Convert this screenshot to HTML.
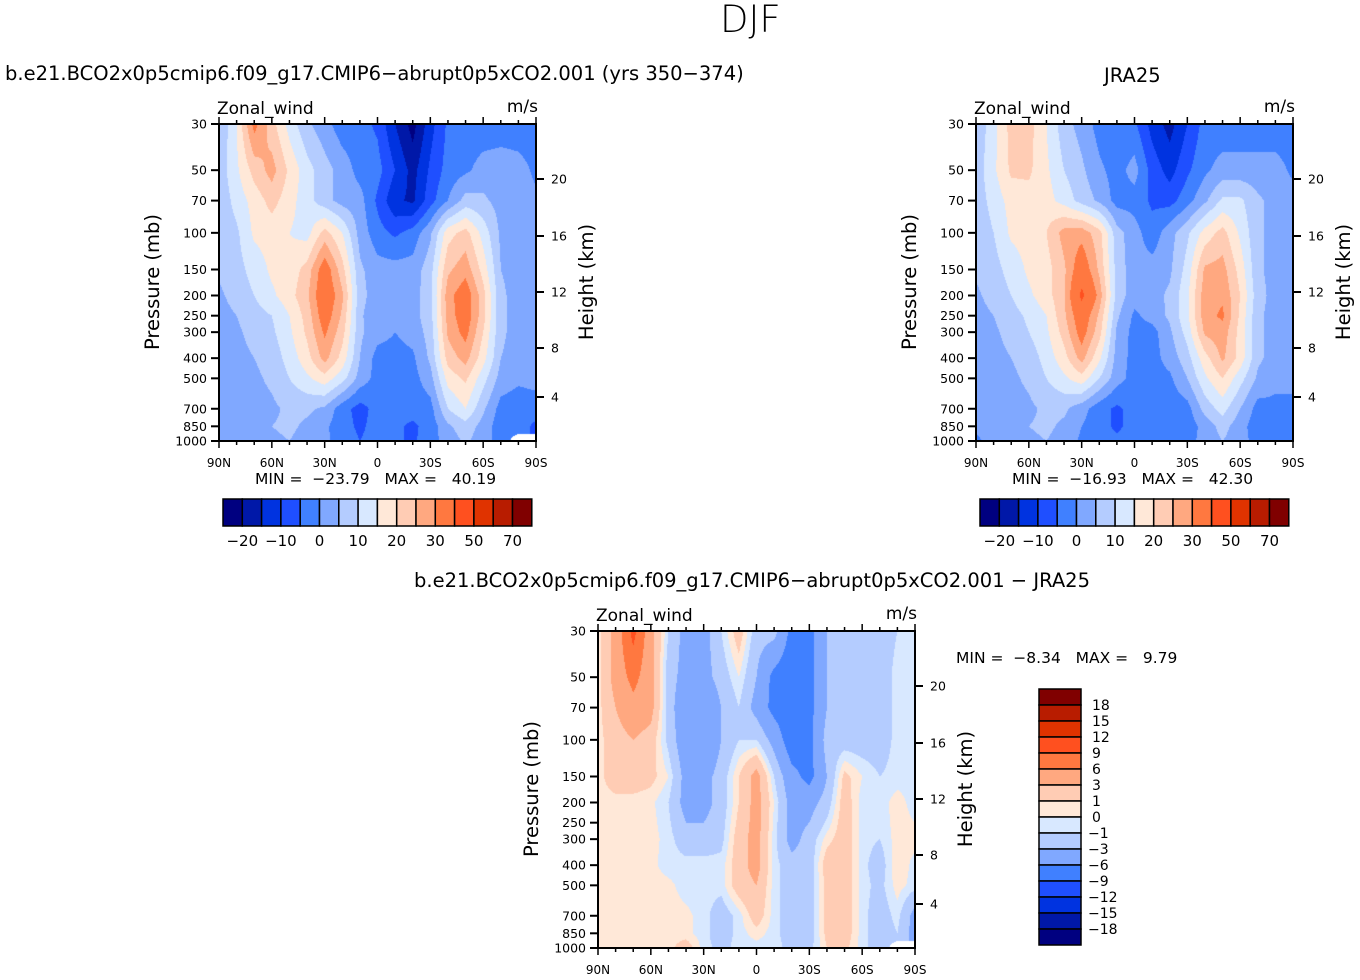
<!DOCTYPE html>
<html><head><meta charset="utf-8">
<style>
body{margin:0;background:#fff;width:1360px;height:980px;overflow:hidden;position:relative;font-family:"DejaVu Sans","Liberation Sans",sans-serif;}
.t{position:absolute;white-space:pre;color:#000;}
canvas{position:absolute;}
svg{position:absolute;left:0;top:0;}
svg text{white-space:pre;}
</style></head><body>
<div class="t" style="left:720px;top:-2px;font-size:37px;font-weight:200;">DJF</div>
<div class="t" style="left:5px;top:62px;font-size:19.5px">b.e21.BCO2x0p5cmip6.f09_g17.CMIP6−abrupt0p5xCO2.001 (yrs 350−374)</div>
<div class="t" style="left:1104px;top:64px;font-size:19.5px">JRA25</div>
<div class="t" style="left:414px;top:569px;font-size:19.5px">b.e21.BCO2x0p5cmip6.f09_g17.CMIP6−abrupt0p5xCO2.001 − JRA25</div>
<canvas id="c1" width="317" height="317" style="left:219px;top:124px"></canvas>
<canvas id="c2" width="317" height="317" style="left:976px;top:124px"></canvas>
<canvas id="c3" width="317" height="317" style="left:598px;top:631px"></canvas>
<svg id="ov" width="1360" height="980"></svg>
<script>
// ---------- data ----------
const lats=["90N","80N","70N","60N","50N","40N","30N","20N","10N","0","10S","20S","30S","40S","50S","60S","70S","80S","90S"];
const plevs=[30,50,70,100,150,200,250,300,400,500,700,850,1000];
const absLevels=[-20,-15,-10,-5,0,5,10,15,20,25,30,40,50,60,70];
const absLabels=["−20","−10","0","10","20","30","50","70"];
const diffLevels=[-18,-15,-12,-9,-6,-3,-1,0,1,3,6,9,12,15,18];
const diffLabels=["18","15","12","9","6","3","1","0","−1","−3","−6","−9","−12","−15","−18"];
const palette=["#000080","#0018a8","#0033e0","#1f4fff","#4080ff","#80a8ff","#b4ccff","#d8e8ff","#ffe8d8","#ffccb4","#ffa880","#ff7840","#ff501f","#e03300","#b81c00","#800000"];
const modelU=[
[5,15,32,22,13,6,2,-3,-3,-6,-15,-22,-12,-4,-3,-3,-3,-3,-3],
[7,14,22,27,19,12,7,3,-2,-3,-10,-17,-9,-3,-1,2,3,2,-1],
[6,12,17,22,17,12,7,3,2,-6,-14,-16,-7,0,7,6,3,2,1],
[6,9,16,17,15,13,22,15,3,-3,-6,-3,4,18,22,13,4,2,1],
[6,8,12,16,17,22,34,22,6,2,2,2,8,24,28,18,5,3,2],
[4,7,10,14,18,24,36,26,7,2,2,3,8,28,34,22,6,3,2],
[3,5,8,10,15,22,34,24,6,1,2,3,8,27,34,22,6,3,2],
[3,4,7,9,14,21,31,22,6,2,0,2,7,26,32,20,6,3,2],
[2,3,5,7,12,18,27,18,5,-2,-2,-1,6,22,27,17,5,3,1],
[2,3,4,6,10,14,18,12,3,-2,-3,-2,3,17,21,12,3,1,2],
[1,2,3,4,6,6,4,-3,-7,-3,-3,-3,-2,10,15,6,-2,-3,-3],
[1,2,3,5,6,4,1,-3,-6,-3,-4,-6,-3,4,8,3,-3,-3,-6],
[1,2,3,4,5,3,1,-2,-5,-3,-4,-6,-2,2,6,2,-2,null,null]];
const jraU=[
[6,13,22,22,15,7,3,-2,-4,-4,-12,-17,-10,-3,-3,-3,-3,-3,-3],
[7,14,21,21,16,10,6,1,-2,2,-7,-12,-6,-1,2,2,2,2,-1],
[7,12,17,18,17,13,8,4,-2,-2,-6,-7,-2,4,11,11,6,3,2],
[6,10,16,17,20,27,28,22,7,2,-3,3,9,17,22,14,6,3,2],
[6,8,12,16,18,24,35,24,8,2,2,4,12,26,27,18,6,3,2],
[4,7,10,14,18,24,42,28,8,2,3,6,14,28,29,20,7,3,2],
[3,5,8,11,15,24,35,24,6,-1,2,6,14,28,31,19,6,3,2],
[3,4,7,10,14,22,33,22,4,-2,-2,4,12,26,28,18,6,3,2],
[2,3,5,7,12,18,27,16,3,-2,-2,2,8,18,26,18,6,3,2],
[2,3,4,6,10,14,18,10,2,-2,-2,-1,5,14,20,12,4,1,2],
[1,2,3,4,6,6,2,-3,-6,-3,-3,-3,-2,7,12,5,-2,-1,-2],
[1,2,3,5,6,4,0,-3,-6,-3,-3,-3,-3,2,7,2,-3,-2,-2],
[-1,2,3,4,5,3,-1,-3,-4,-3,-3,-3,-2,2,5,2,-2,-2,-2]];
const diffU=[
[0.5,4,10,4,-1,-4,-4,-1,2,-2,-2,-7,-7,-3,-2,-2,-2,-1,-0.5],
[0.5,4,7,4,-2,-4,-4,-2,0,-3,-7,-8,-7,-3,-2,-2,-2,-0.5,-0.5],
[0.5,3,5,4,-2,-5,-6,-3,-1,-4,-7,-8,-7,-3,-2,-2,-2,-0.5,-0.5],
[0.5,2,3,2,-1.5,-5,-6,-3,-1,-1,-4,-8,-7,-2,-2,-2,-2,-0.5,-0.5],
[0.5,2,2,1.5,0,-4,-4,-2,1,4,-1,-5,-7,-3,1.5,0,-1,-0.5,-0.5],
[0.5,0.5,0.5,0.3,-1,-4,-4,-2,1,4,0,-4,-4,-2,2,-0.5,-0.5,0.5,-0.5],
[0.5,0.5,0.5,0.4,-0.7,-3,-3,-1.7,1.5,4,-0.3,-4,-3,-0.7,2,-0.5,-0.7,0.5,0],
[0.5,0.5,0.5,0.5,-0.5,-2,-2,-1.5,2,4,-0.5,-4,-2,0.5,2,-0.5,-1,0.5,0.5],
[0.5,0.5,0.5,0.3,-0.5,-0.5,-0.5,-0.5,2,4,-0.5,-2,-2,2,2,-0.5,-2,1,-0.5],
[0.5,0.5,0.5,0.5,0.3,-0.5,-0.5,-0.5,2,3,-0.5,-2,-2,1.5,2,-0.5,-1.5,0.5,-0.5],
[0.5,0.5,0.5,0.5,0.5,0.3,-0.5,-2,-0.5,2,-0.5,-2,-2,1.5,2,-0.5,-2,-0.5,-4],
[0.5,0.5,0.5,0.5,0.5,0.3,-0.5,-2,-0.5,0.5,-0.5,-2,-2,1.5,2,-0.5,-2,-1,-4],
[0.5,0.5,0.8,0.5,0.5,2,-0.5,-1.5,-0.5,-0.5,-0.5,-1.5,-1.5,1,1.5,-0.5,-2,null,null]];
const pTicks=[30,50,70,100,150,200,250,300,400,500,700,850,1000];
const hTicks=[["20",55],["16",112],["12",168],["8",224],["4",273]];
const latTickLabels=["90N","60N","30N","0","30S","60S","90S"];

// ---------- helpers ----------
const W=317,H=317;
const yOfP=p=>Math.log(p/30)/Math.log(1000/30)*H;
const xOfLat=i=>i/(lats.length-1)*W;
function colorIdx(v,lev){let k=0;while(k<lev.length&&v>=lev[k])k++;return k;}
function hex(c){return [parseInt(c.substr(1,2),16),parseInt(c.substr(3,2),16),parseInt(c.substr(5,2),16)];}
const rgb=palette.map(hex);
function drawField(id,grid,lev){
  const cv=document.getElementById(id),ctx=cv.getContext('2d');
  const img=ctx.createImageData(W,H);
  const rowY=plevs.map(yOfP);
  for(let py=0;py<H;py++){
    const y=py+0.5;let r=0;while(r<plevs.length-2&&rowY[r+1]<y)r++;
    const ty=Math.min(1,Math.max(0,(y-rowY[r])/(rowY[r+1]-rowY[r])));
    for(let px=0;px<W;px++){
      const fx=(px+0.5)/W*(lats.length-1);let c=Math.min(lats.length-2,Math.floor(fx));const tx=fx-c;
      const a=grid[r][c],b=grid[r][c+1],d=grid[r+1][c],e=grid[r+1][c+1];
      let o=(py*W+px)*4;
      const vals=[[a,(1-tx)*(1-ty)],[b,tx*(1-ty)],[d,(1-tx)*ty],[e,tx*ty]];
      let s=0,ws=0,nul=0;
      for(const [v,w] of vals){if(v===null){nul+=w;}else{s+=v*w;ws+=w;}}
      if(nul>0.5||ws===0){img.data[o]=255;img.data[o+1]=255;img.data[o+2]=255;img.data[o+3]=255;continue;}
      const col=rgb[colorIdx(s/ws,lev)];
      img.data[o]=col[0];img.data[o+1]=col[1];img.data[o+2]=col[2];img.data[o+3]=255;
    }
  }
  ctx.putImageData(img,0,0);
}
drawField('c1',modelU,absLevels);
drawField('c2',jraU,absLevels);
drawField('c3',diffU,diffLevels);

const NS='http://www.w3.org/2000/svg';
const ov=document.getElementById('ov');
function el(tag,attrs,name,txt){const e=document.createElementNS(NS,tag);for(const k in attrs)e.setAttribute(k,attrs[k]);
  
  
  if(txt!==undefined)e.textContent=txt;ov.appendChild(e);return e;}
const F='DejaVu Sans, Liberation Sans, sans-serif';
function axes(x0,y0){
  el('rect',{x:x0,y:y0,width:W,height:H,fill:'none',stroke:'#000','stroke-width':2},'plot-frame');
  pTicks.forEach(p=>{const y=y0+yOfP(p);
    el('line',{x1:x0-8,y1:y,x2:x0,y2:y,stroke:'#000','stroke-width':2},'pressure-tick');
    el('text',{x:x0-12,y:y+4.5,'font-size':12.5,'text-anchor':'end','font-family':F},'pressure-tick-label',String(p));});
  hTicks.forEach(h=>{const y=y0+h[1];
    el('line',{x1:x0+W,y1:y,x2:x0+W+8,y2:y,stroke:'#000','stroke-width':2},'height-tick');
    el('text',{x:x0+W+15,y:y+4.5,'font-size':12.5,'font-family':F},'height-tick-label',h[0]);});
  for(let i=0;i<lats.length;i++){const x=x0+xOfLat(i);const major=i%3===0;const L=major?7:4;
    el('line',{x1:x,y1:y0+H,x2:x,y2:y0+H+L,stroke:'#000','stroke-width':1.5},'lat-tick');
    el('line',{x1:x,y1:y0,x2:x,y2:y0-L,stroke:'#000','stroke-width':1.5},'lat-tick-top');}
  latTickLabels.forEach((t,k)=>{el('text',{x:x0+xOfLat(k*3),y:y0+H+26,'font-size':12,'text-anchor':'middle','font-family':F},'lat-tick-label',t);});
  el('text',{x:x0-2,y:y0-10,'font-size':17,'font-family':F},'field-name','Zonal_wind');
  el('text',{x:x0+W+2,y:y0-12,'font-size':17,'text-anchor':'end','font-family':F},'units','m/s');
  el('text',{x:0,y:0,'font-size':19.5,'text-anchor':'middle','font-family':F,transform:`translate(${x0-60},${y0+158}) rotate(-90)`},'y-axis-title','Pressure (mb)');
  el('text',{x:0,y:0,'font-size':19.5,'text-anchor':'middle','font-family':F,transform:`translate(${x0+W+57},${y0+158}) rotate(-90)`},'y2-axis-title','Height (km)');
}
axes(219,124);axes(976,124);axes(598,631);
function minmax(x,y,mn,mx){el('text',{x:x,y:y,'font-size':15.5,'font-family':F},'min-max-label',`MIN =  ${mn}   MAX =   ${mx}`);}
minmax(255,484,'−23.79','40.19');minmax(1012,484,'−16.93','42.30');minmax(956,663,'−8.34','9.79');
function hbar(x0,y0){const bw=19.3;
  palette.forEach((c,i)=>el('rect',{x:x0+i*bw,y:y0,width:bw,height:27,fill:c,stroke:'#000','stroke-width':1.5},'colorbar-box'));
  absLabels.forEach((t,k)=>el('text',{x:x0+(2*k+1)*bw,y:y0+47,'font-size':15,'text-anchor':'middle','font-family':F},'colorbar-label',t));}
hbar(223,499);hbar(980,499);
palette.slice().reverse().forEach((c,i)=>el('rect',{x:1039,y:689+i*16,width:42,height:16,fill:c,stroke:'#000','stroke-width':1.5},'diff-colorbar-box'));
diffLabels.forEach((t,k)=>el('text',{x:t[0]==='−'?1088:1092,y:705+k*16+5,'font-size':14,'font-family':F},'diff-colorbar-label',t));
</script>
</body></html>
